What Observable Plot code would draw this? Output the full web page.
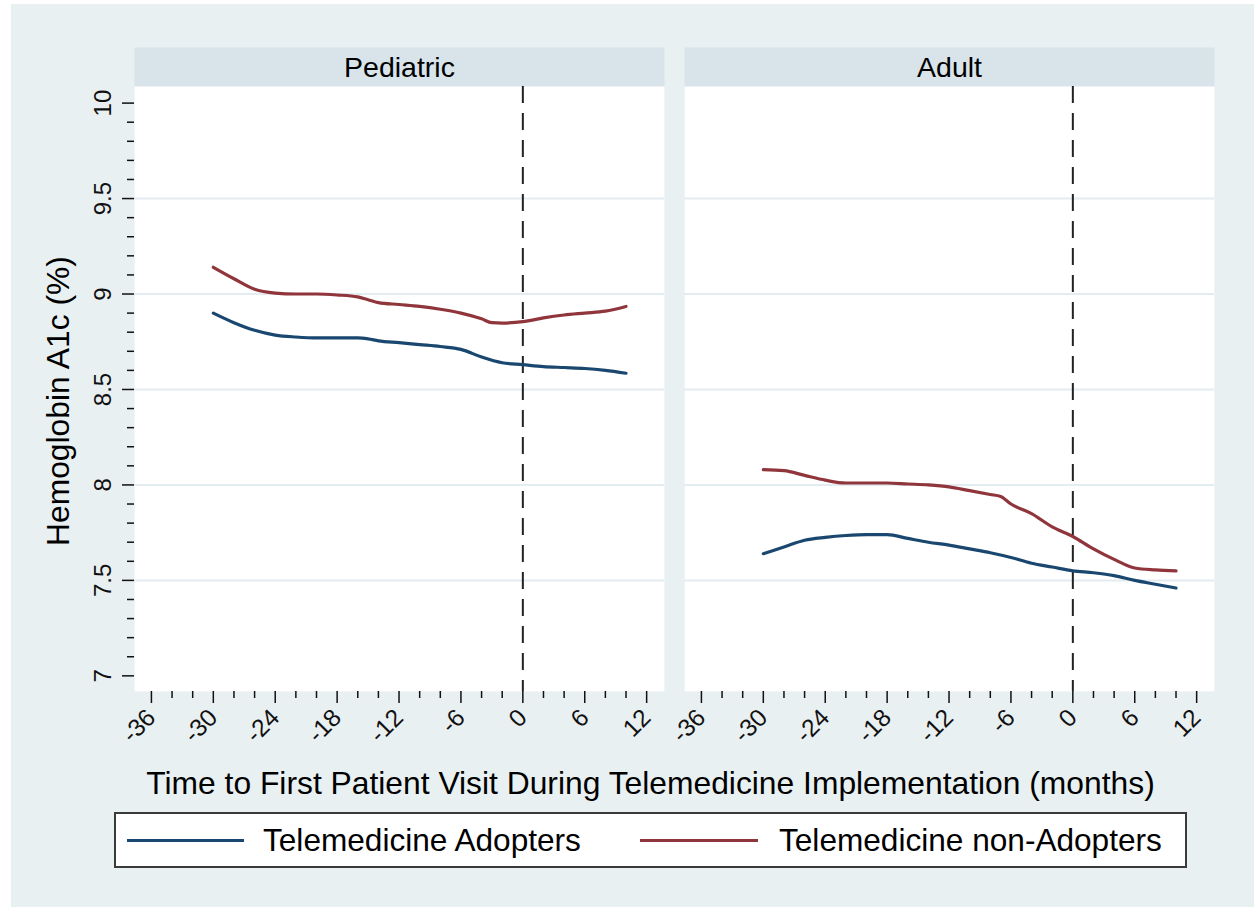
<!DOCTYPE html>
<html>
<head>
<meta charset="utf-8">
<script src="https://cdn.jsdelivr.net/npm/d3@7"></script>
<script src="https://cdn.jsdelivr.net/npm/@observablehq/plot@0.6"></script>
<style>
  body { margin: 0; background: #ffffff; font-family: "Liberation Sans", Arial, sans-serif; color: #000; }
  #bg { position: absolute; left: 11px; top: 4px; width: 1243px; height: 903px; background: #e9f0f2; }
  #chart { position: absolute; left: 0; top: 0; }
  .abs { position: absolute; white-space: nowrap; }
  #ytitle { font-size: 31.8px; line-height: 31.8px; transform-origin: 0 0; }
  #xtitle { font-size: 31.8px; line-height: 31.8px; }
  #legend { position: absolute; left: 114px; top: 812px; width: 1073px; height: 56px; box-sizing: border-box; border: 2px solid #3a3a3a; background: #fff; }
  .lgtext { font-size: 31.6px; line-height: 31.6px; }
</style>
</head>
<body>
<div id="bg"></div>
<div id="chart"></div>
<div id="legend"></div>
<script>
// ---------------- data ----------------
const panels = ["Pediatric", "Adult"];
const seriesNames = ["Telemedicine Adopters", "Telemedicine non-Adopters"];
const seriesColors = ["#1a476f", "#90353b"];

const pedAdoptMonths = [-30, -28, -26, -24, -22, -20, -18, -16, -15, -14, -12, -10, -8, -6, -4, -2, 0, 2, 4, 6, 8, 10];
const pedAdoptValues = [8.90, 8.85, 8.81, 8.785, 8.775, 8.77, 8.77, 8.77, 8.765, 8.755, 8.745, 8.735, 8.725, 8.71, 8.67, 8.64, 8.63, 8.62, 8.615, 8.61, 8.60, 8.585];

const pedNonMonths = [-30, -28, -26, -24, -22, -20, -18, -16, -15, -14, -12, -10, -8, -6, -4, -3, -2, 0, 2, 4, 6, 8, 10];
const pedNonValues = [9.14, 9.08, 9.025, 9.005, 9.0, 9.0, 8.995, 8.985, 8.97, 8.955, 8.945, 8.935, 8.92, 8.90, 8.87, 8.85, 8.848, 8.855, 8.875, 8.89, 8.90, 8.91, 8.935];

const adAdoptMonths = [-30, -28, -26, -24, -22, -20, -18, -16, -14, -12, -10, -8, -6, -4, -2, 0, 2, 4, 6, 8, 10];
const adAdoptValues = [7.64, 7.675, 7.71, 7.725, 7.735, 7.74, 7.74, 7.72, 7.70, 7.685, 7.665, 7.645, 7.62, 7.59, 7.57, 7.55, 7.54, 7.525, 7.50, 7.48, 7.46];

const adNonMonths = [-30, -28, -26, -24, -22, -20, -18, -16, -14, -12, -10, -8, -7, -6, -4, -2, 0, 2, 4, 6, 8, 10];
const adNonValues = [8.08, 8.075, 8.05, 8.025, 8.01, 8.01, 8.01, 8.005, 8.0, 7.99, 7.97, 7.95, 7.94, 7.90, 7.85, 7.78, 7.73, 7.665, 7.61, 7.565, 7.555, 7.55];

const xMajorTicks = [-36, -30, -24, -18, -12, -6, 0, 6, 12];
const xMinorTicks = [-34, -32, -28, -26, -22, -20, -16, -14, -10, -8, -4, -2, 2, 4, 8, 10];
const yMajorTicks = [7, 7.5, 8, 8.5, 9, 9.5, 10];
const yMinorTicks = [7.1, 7.2, 7.3, 7.4, 7.6, 7.7, 7.8, 7.9, 8.1, 8.2, 8.3, 8.4, 8.6, 8.7, 8.8, 8.9, 9.1, 9.2, 9.3, 9.4, 9.6, 9.7, 9.8, 9.9];
const yGridLines = [7.5, 8, 8.5, 9, 9.5];
const eventMonth = [0];

const xTitle = "Time to First Patient Visit During Telemedicine Implementation (months)";
const yTitle = "Hemoglobin A1c (%)";

// ---------------- table ----------------
const rows = [];
function addSeries(panel, series, months, values) {
  months.forEach((m, i) => rows.push({panel, series, month: m, value: values[i]}));
}
addSeries(panels[0], seriesNames[0], pedAdoptMonths, pedAdoptValues);
addSeries(panels[0], seriesNames[1], pedNonMonths, pedNonValues);
addSeries(panels[1], seriesNames[0], adAdoptMonths, adAdoptValues);
addSeries(panels[1], seriesNames[1], adNonMonths, adNonValues);

const fmt = d => String(d);

const plot = Plot.plot({
  width: 1254,
  height: 760,
  marginLeft: 134,
  marginRight: 40,
  marginTop: 86,
  marginBottom: 69,
  style: {background: "transparent", fontFamily: "'Liberation Sans', Arial, sans-serif", color: "#111", overflow: "visible"},
  fx: {domain: panels, paddingInner: 20 / 550, paddingOuter: 0, label: null},
  x: {domain: [-37.64, 13.73]},
  y: {domain: [6.918, 10.087]},
  color: {domain: seriesNames, range: seriesColors},
  marks: [
    Plot.frame({fill: "#d8e4ea", stroke: "none", insetTop: -39}),
    Plot.frame({fill: "#ffffff", stroke: "none"}),
    Plot.gridY(yGridLines, {stroke: "#e3ecf0", strokeOpacity: 1, strokeWidth: 2}),
    Plot.ruleX(eventMonth, {stroke: "#222", strokeWidth: 2, strokeDasharray: "17,10"}),
    Plot.line(rows, {fx: "panel", x: "month", y: "value", z: "series", stroke: "series", strokeWidth: 3.2, curve: "monotone-x"}),
    Plot.axisX(xMajorTicks, {tickSize: 12, tickPadding: 10, tickRotate: -45, line: true, label: null, tickFormat: fmt, fontSize: 24.5, strokeWidth: 1.5}),
    Plot.axisX(xMinorTicks, {tickSize: 7, tickFormat: () => "", label: null, strokeWidth: 1.5}),
    Plot.axisY(yMajorTicks, {tickSize: 12, tickPadding: 12, tickRotate: -90, line: true, label: null, tickFormat: fmt, fontSize: 24, strokeWidth: 1.5}),
    Plot.axisY(yMinorTicks, {tickSize: 7, tickFormat: () => "", label: null, strokeWidth: 1.5}),
    Plot.axisFx({anchor: "top", tickSize: 0, tickPadding: 10, fontSize: 28.5, label: null, fill: "#000"})
  ]
});
document.getElementById("chart").appendChild(plot);

// ---------------- titles ----------------
const yt = document.createElement("div");
yt.id = "ytitle"; yt.className = "abs"; yt.textContent = yTitle;
document.body.appendChild(yt);
const ytw = yt.getBoundingClientRect().width;
yt.style.left = (58.8 - 15.9) + "px";
yt.style.top = (401 + ytw / 2) + "px";
yt.style.transform = "rotate(-90deg)";

const xt = document.createElement("div");
xt.id = "xtitle"; xt.className = "abs"; xt.textContent = xTitle;
document.body.appendChild(xt);
const xtw = xt.getBoundingClientRect().width;
xt.style.left = (650.5 - xtw / 2) + "px";
xt.style.top = (795 - 26.9) + "px";

// ---------------- legend ----------------
const legendPos = [{line: [127, 244], text: 263}, {line: [640, 758], text: 779}];
seriesNames.forEach((name, i) => {
  const p = legendPos[i];
  const sw = document.createElement("div");
  sw.className = "abs";
  sw.style.left = p.line[0] + "px";
  sw.style.top = "838.5px";
  sw.style.width = (p.line[1] - p.line[0]) + "px";
  sw.style.height = "3px";
  sw.style.background = seriesColors[i];
  document.body.appendChild(sw);
  const tx = document.createElement("div");
  tx.className = "abs lgtext";
  tx.style.left = p.text + "px";
  tx.style.top = (852 - 26.7) + "px";
  tx.textContent = name;
  document.body.appendChild(tx);
});
</script>
</body>
</html>
